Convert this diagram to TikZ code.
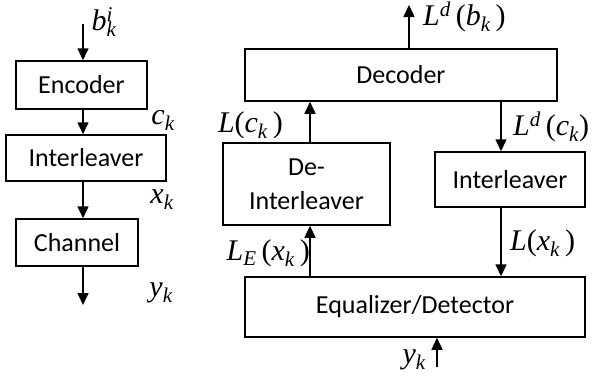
\documentclass[tikz,border=0pt]{standalone}
\usepackage{fontspec}
\newfontfamily\carlito{Carlito}
\newfontfamily\tms{Liberation Serif}
\usetikzlibrary{arrows.meta}
\newcommand\mysub[1]{\textsubscript{\itshape #1}}
\newcommand\mysup[1]{\textsuperscript{\itshape #1}}
\newcommand\iv[1]{{\itshape #1}}
\begin{document}
\begin{tikzpicture}[x=1pt,y=-1pt,
 box/.style={draw, line width=1.5pt, inner sep=0pt, font=\carlito\fontsize{26}{34}\selectfont, align=center},
 arr/.style={line width=1.5pt, -{Triangle[length=12pt,width=11pt]}},
 lab/.style={inner sep=0pt, font=\tms\fontsize{30}{34}\selectfont}]
\useasboundingbox (0,0) rectangle (596,378);
% left chain
\node[box, minimum width=131pt, minimum height=48pt] (enc) at (81.5,85) {Encoder};
\node[box, minimum width=160pt, minimum height=46pt] (il1) at (86,158) {Interleaver};
\node[box, minimum width=122pt, minimum height=47pt] (ch) at (77,242.5) {Channel};
\coordinate (in) at (83,24);
\coordinate (out) at (83,305);
\draw[arr] (in) -- (in |- enc.north);
\draw[arr] (enc.south -| in) -- (il1.north -| in);
\draw[arr] (il1.south -| in) -- (ch.north -| in);
\draw[arr] (ch.south -| in) -- (out);
\node[lab] (lb) at (104,22) {\iv{b}\makebox[0pt][l]{\mysup{i}}\mysub{k}};
\node[lab] (lc) at (163,120) {\iv{c}\mysub{k}};
\node[lab] (lx) at (162,200) {\iv{x}\mysub{k}};
\node[lab] (ly) at (161,293) {\iv{y}\mysub{k}};
% right loop
\node[box, minimum width=312pt, minimum height=52pt] (dec) at (401,75) {Decoder};
\node[box, minimum width=167pt, minimum height=82pt] (dil) at (306.5,184) {De-\\Interleaver};
\node[box, minimum width=150pt, minimum height=55pt] (il2) at (510,179.5) {Interleaver};
\node[box, minimum width=340pt, minimum height=60pt] (eq) at (415,307) {Equalizer/Detector};
\coordinate (top) at (409,5);
\coordinate (ybot) at (437,367);
\draw[arr] (top |- dec.north) -- (top);
\draw[arr] (dil.north -| 310,0) -- (dec.south -| 310,0);
\draw[arr] (dec.south -| 501,0) -- (il2.north -| 501,0);
\draw[arr] (il2.south -| 501,0) -- (eq.north -| 501,0);
\draw[arr] (eq.north -| 310,0) -- (dil.south -| 310,0);
\draw[arr] (ybot) -- (ybot |- eq.south);
\node[lab, anchor=west] (lLb) at (423,17) {\iv{L}\mysup{d}\,(\iv{b}\mysub{k}\,)};
\node[lab, anchor=east] (lLc) at (283,125) {\iv{L}(\iv{c}\mysub{k}\,)};
\node[lab, anchor=west] (lLdc) at (513,127) {\iv{L}\mysup{d}\,(\iv{c}\mysub{k})};
\node[lab, anchor=west] (lLx) at (510,243) {\iv{L}(\iv{x}\mysub{k}\,)};
\node[lab, anchor=east] (lLE) at (310,253) {\iv{L}\mysub{E}\,(\iv{x}\mysub{k}\,)};
\node[lab, anchor=east] (lyk) at (426,360) {\iv{y}\mysub{k}};
\end{tikzpicture}
\end{document}
